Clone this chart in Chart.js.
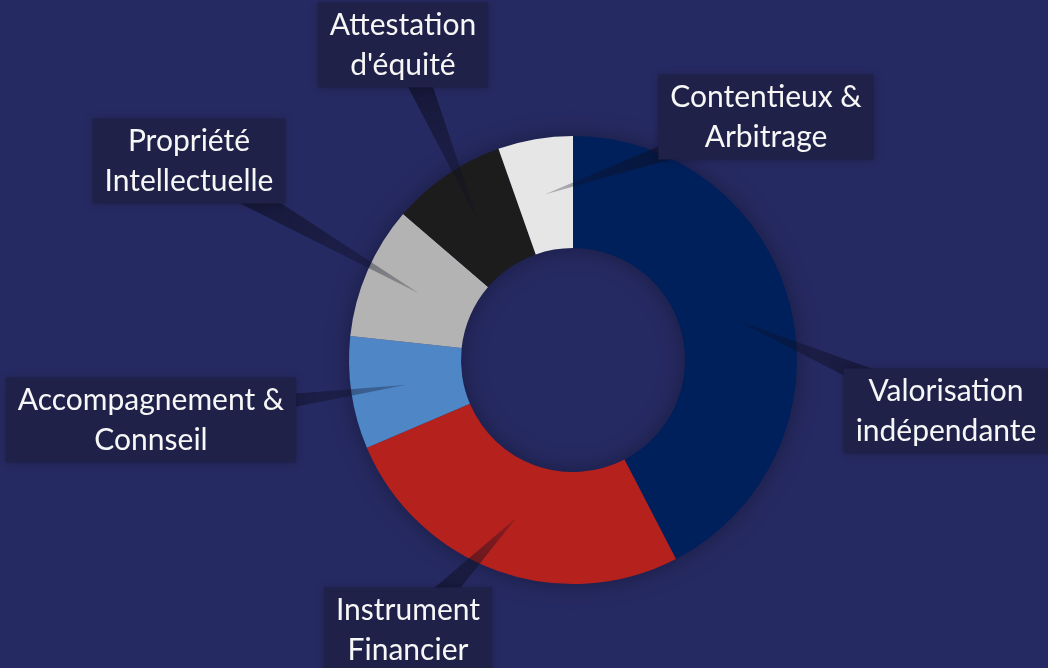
<!DOCTYPE html>
<html>
<head>
<meta charset="utf-8">
<script src="https://cdn.jsdelivr.net/npm/chart.js@4.4.1/dist/chart.umd.min.js"></script>
<style>
  html, body { margin: 0; padding: 0; background: #262a62; }
  #wrap { width: 1048px; height: 668px; position: relative; }
</style>
</head>
<body>
<div id="wrap"><canvas id="chartServices"></canvas></div>
<script>
// Data
const serviceLabels = [
  ['Valorisation', 'indépendante'],
  ['Instrument', 'Financier'],
  ['Accompagnement &', 'Connseil'],
  ['Propriété', 'Intellectuelle'],
  ['Attestation', "d'équité"],
  ['Contentieux &', 'Arbitrage']
]
const serviceShares = [42.4, 26.2, 8.1, 9.6, 8.3, 5.4]
const serviceColors = ['#00205b', '#b5211d', '#4f86c6', '#b3b3b3', '#1c1c1c', '#e6e6e6']

// callout box centres (layout only)
const calloutCentres = [
  [946, 411],
  [408, 630],
  [151, 420],
  [189, 161],
  [403, 45],
  [766, 117]
]

const ringShadow = {
  id: 'ringShadow',
  beforeDatasetsDraw(chart) {
    const arc = chart.getDatasetMeta(0).data[0]
    if (!arc) return
    const { x, y, outerRadius, innerRadius } = arc.getProps(['x', 'y', 'outerRadius', 'innerRadius'], true)
    const ctx = chart.ctx
    ctx.save()
    ctx.shadowColor = 'rgba(0,0,0,0.35)'
    ctx.shadowBlur = 24
    ctx.fillStyle = '#24285c'
    ctx.beginPath()
    ctx.arc(x, y, outerRadius - 1, 0, Math.PI * 2)
    ctx.arc(x, y, innerRadius + 1, 0, Math.PI * 2, true)
    ctx.fill()
    ctx.restore()
  }
}

const callouts = {
  id: 'callouts',
  afterDatasetsDraw(chart) {
    const ctx = chart.ctx
    const meta = chart.getDatasetMeta(0)
    const font = '30px Lato, "Noto Sans", sans-serif'
    const lineH = 40

    // pointers first
    meta.data.forEach((arc, i) => {
      const tip = arc.tooltipPosition(true)
      const [cx, cy] = calloutCentres[i]
      const dx = tip.x - cx, dy = tip.y - cy
      const len = Math.hypot(dx, dy)
      const nx = -dy / len, ny = dx / len
      const half = 15
      const grad = ctx.createLinearGradient(cx, cy, tip.x, tip.y)
      grad.addColorStop(0, 'rgba(14,14,34,0.75)')
      grad.addColorStop(0.5, 'rgba(14,14,34,0.5)')
      grad.addColorStop(1, 'rgba(14,14,34,0.25)')
      ctx.save()
      ctx.fillStyle = grad
      ctx.beginPath()
      ctx.moveTo(cx + nx * half, cy + ny * half)
      ctx.lineTo(tip.x, tip.y)
      ctx.lineTo(cx - nx * half, cy - ny * half)
      ctx.closePath()
      ctx.fill()
      ctx.restore()
    })

    // boxes and text
    meta.data.forEach((arc, i) => {
      const lines = chart.data.labels[i]
      const [cx, cy] = calloutCentres[i]
      ctx.save()
      ctx.font = font
      const w = Math.max(...lines.map(l => ctx.measureText(l).width)) + 24
      const h = lines.length * lineH + 5
      ctx.shadowColor = 'rgba(0,0,0,0.25)'
      ctx.shadowBlur = 8
      ctx.fillStyle = '#1f2148'
      ctx.fillRect(cx - w / 2, cy - h / 2, w, h)
      ctx.shadowColor = 'transparent'
      ctx.fillStyle = '#f7f7f7'
      ctx.textAlign = 'center'
      ctx.textBaseline = 'middle'
      lines.forEach((l, k) => {
        ctx.fillText(l, cx, cy + (k - (lines.length - 1) / 2) * lineH)
      })
      ctx.restore()
    })
  }
}

new Chart(document.getElementById('chartServices'), {
  type: 'doughnut',
  data: {
    labels: serviceLabels,
    datasets: [{
      data: serviceShares,
      backgroundColor: serviceColors,
      borderWidth: 0,
      hoverOffset: 0
    }]
  },
  options: {
    responsive: true,
    maintainAspectRatio: false,
    animation: false,
    cutout: '50%',
    layout: { padding: { left: 349, right: 251, top: 136, bottom: 84 } },
    plugins: { legend: { display: false }, tooltip: { enabled: false } }
  },
  plugins: [ringShadow, callouts]
})
</script>
</body>
</html>
